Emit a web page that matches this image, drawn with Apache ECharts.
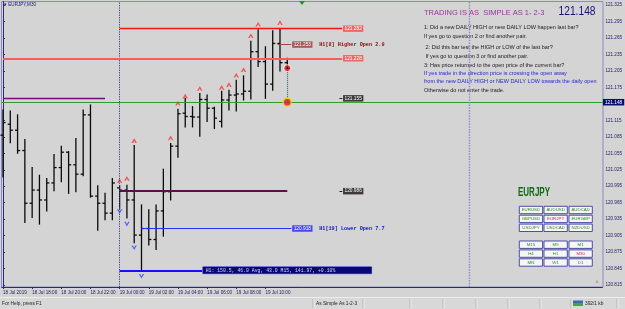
<!DOCTYPE html>
<html><head><meta charset="utf-8">
<script src="https://cdn.jsdelivr.net/npm/echarts@6/dist/echarts.min.js"></script>
<style>html,body{margin:0;padding:0;background:#d4d4d4;overflow:hidden}#c{width:625px;height:309px}</style>
</head><body><div id="c"></div>
<script>
// ---- data ----
const barIndex = [0,1,2,3,4,5,6,7,8,9,10,11,12,13,14,15,16,17,18,19,20,21,22,23,24,25,26,27,28,29,30,31,32,33,34,35,36,37,38,39];
const barOpen  = [121.088,121.108,121.097,121.060,120.964,120.988,120.970,121.001,121.029,121.057,121.034,121.017,121.125,120.977,120.964,120.946,120.992,120.988,120.970,120.906,120.918,120.898,120.950,120.985,121.068,121.128,121.122,121.121,121.153,121.137,121.113,121.152,121.161,121.163,121.168,121.240,121.222,121.181,121.255,121.220];
const barHigh  = [121.134,121.132,121.125,121.080,121.029,121.015,121.009,121.053,121.068,121.058,121.082,121.134,121.143,120.996,120.982,121.009,120.996,120.997,121.069,120.961,120.952,120.961,121.026,121.073,121.135,121.155,121.140,121.164,121.161,121.139,121.168,121.170,121.188,121.196,121.259,121.280,121.249,121.278,121.281,121.228];
const barLow   = [121.012,121.074,121.055,120.929,120.938,120.926,120.950,120.987,121.003,120.982,120.985,121.014,120.975,120.915,120.934,120.934,120.955,120.937,120.892,120.842,120.888,120.880,120.904,120.970,121.048,121.103,121.103,121.086,121.113,121.100,121.103,121.134,121.132,121.152,121.154,121.213,121.155,121.170,121.205,121.210];
const barClose = [121.111,121.097,121.060,120.964,120.988,120.970,121.001,121.029,121.057,121.034,121.017,121.125,120.977,120.964,120.946,121.001,120.988,120.970,120.906,120.918,120.898,120.950,120.985,121.068,121.127,121.122,121.121,121.153,121.137,121.119,121.152,121.161,121.163,121.168,121.240,121.222,121.181,121.255,121.220,121.210];

const timeLabels   = ['18 Jul 2019','18 Jul 18:00','18 Jul 20:00','18 Jul 22:00','19 Jul 00:00','19 Jul 02:00','19 Jul 04:00','19 Jul 06:00','19 Jul 08:00','19 Jul 10:00'];
const timeLabelIdx = [0,4,8,12,16,20,24,28,32,36];
const priceTicks = [120.815,120.845,120.875,120.905,120.935,120.965,120.995,121.025,121.055,121.085,121.115,121.175,121.205,121.235,121.265,121.295,121.325];

const upArrowIdx   = [16,17,18,23,24,25,27,30,31,32,33,34,35,38];
const upArrowPrice = [121.005,121.009,121.078,121.083,121.146,121.159,121.173,121.175,121.180,121.197,121.207,121.269,121.290,121.293];
const downArrowIdx   = [16,17,18,19];
const downArrowPrice = [120.949,120.926,120.883,120.831];

const bidPrice = 121.148;
const dailyHigh = 121.282;
const prevHigh = 121.228;
const purpleLevel = 121.155;
const darkLevel = 120.986;
const higherOpen = 121.253;
const lowerOpen = 120.918;
const lowLevel = 120.842;
const currentDot = 121.210;

const pairs = ['EURUSD','AUDUSD','AUDCAD','GBPUSD','EURJPY','EURGBP','USDJPY','USDCAD','NZDUSD'];
const frames = ['M15','M5','M1','H4','H1','M30','MN','W1','D1'];
const questionLines = [
 ['1: Did a new DAILY HIGH or new DAILY LOW happen last bar?','#1a1a1a'],
 ['If yes go to question 2 or find another pair.','#1a1a1a'],
 [' 2: Did this bar test the HIGH or LOW of the last bar?','#1a1a1a'],
 [' If yes go to question 3 or find another pair.','#1a1a1a'],
 ['3: Has price returned to the open price of the current bar?','#1a1a1a'],
 ['If yes trade in the direction price is crossing the open away','#2626cc'],
 ['from the new DAILY HIGH or NEW DAILY LOW towards the daily open','#2626cc'],
 ['Otherwise do not enter the trade.','#1a1a1a']
];
const questionY = [27.3,36.7,47.7,56.7,65.7,73.7,81.7,90];

// ---- chart ----
const chart = echarts.init(document.getElementById('c'), null, {renderer:'canvas'});
const navy = '#1c1c66';
const upPath = 'path://M0,10 L5,0 L10,10 L7.2,10 L5,5.2 L2.8,10 Z';
const downPath = 'path://M0,0 L2.8,0 L5,4.8 L7.2,0 L10,0 L5,10 Z';

function seg(x1,x2,y,color,width,label,type){
  const s = [{coord:[x1,y]},{coord:[x2,y]}];
  s[0].lineStyle = {color:color,width:width,type:type||'solid'};
  s[0].label = label ? label : {show:false};
  return s;
}

const graphics = [];
graphics.push({type:'rect',shape:{x:1.5,y:1.5,width:601.5,height:285.5},style:{fill:null,stroke:'#8a8ac0',lineWidth:1},silent:true,z:-1});
graphics.push({type:'text',x:4,y:5,style:{text:'\u25BE EURJPY,M30',font:'4.6px "Liberation Sans"',fill:navy,verticalAlign:'middle'}});
graphics.push({type:'polygon',shape:{points:[[299,1],[305,1],[302,5]]},style:{fill:'#1a9a1a'}});
graphics.push({type:'text',x:424,y:12.7,style:{text:'TRADING IS AS  SIMPLE AS 1- 2-3',font:'7.5px "Liberation Sans"',fill:'#9a349e',verticalAlign:'middle'}});
graphics.push({type:'text',x:558.5,y:11.5,scaleX:0.82,style:{text:'121.148',font:'12.5px "Liberation Sans"',fill:'#14146e',verticalAlign:'middle'}});
questionLines.forEach((q,k)=>{
  graphics.push({type:'text',x:424,y:questionY[k],style:{text:q[0],font:'5.5px "Liberation Sans"',fill:q[1],verticalAlign:'middle'}});
});
graphics.push({type:'text',x:518,y:193,scaleX:0.64,style:{text:'EURJPY',font:'bold 12.5px "Liberation Sans"',fill:'#0b6a0b',verticalAlign:'middle'}});
const colX = [519.3,544,569];
function grid3(list, y0, hl){
  list.forEach((t,k)=>{
    const r = Math.floor(k/3), c = k%3;
    const x = colX[c], y = y0 + r*8.9;
    graphics.push({type:'rect',shape:{x:x,y:y,width:23.3,height:7.4},style:{fill:'#f6f6f6',stroke:'#3c3ca0',lineWidth:0.9}});
    graphics.push({type:'text',x:x+11.65,y:y+3.8,style:{text:t,font:'4.4px "Liberation Sans"',fill:t===hl?'#e0206a':'#2a8a2a',align:'center',verticalAlign:'middle'}});
  });
}
grid3(pairs, 206.3, 'EURJPY');
grid3(frames, 241, 'M30');
graphics.push({type:'text',x:597,y:282,style:{text:'\u2693',font:'4px "DejaVu Sans"',fill:'#777',align:'center',verticalAlign:'middle'}});
// status bar
graphics.push({type:'rect',shape:{x:0,y:297,width:625,height:12},style:{fill:'#d8d8d8'}});
graphics.push({type:'line',shape:{x1:0,y1:297.5,x2:625,y2:297.5},style:{stroke:'#eeeeee',lineWidth:1}});
[313,363,410,443,476,508,540,571,617].forEach(x=>{
  graphics.push({type:'line',shape:{x1:x,y1:299,x2:x,y2:308},style:{stroke:'#a8a8a8',lineWidth:0.8}});
  graphics.push({type:'line',shape:{x1:x+1,y1:299,x2:x+1,y2:308},style:{stroke:'#f4f4f4',lineWidth:0.8}});
});
graphics.push({type:'text',x:2,y:304,style:{text:'For Help, press F1',font:'4.8px "Liberation Sans"',fill:'#1a1a1a',verticalAlign:'middle'}});
graphics.push({type:'text',x:316,y:304,style:{text:'As Simple As 1-2-3',font:'4.8px "Liberation Sans"',fill:'#1a1a1a',verticalAlign:'middle'}});
graphics.push({type:'rect',shape:{x:573,y:300.5,width:10,height:5.5},style:{fill:'#3a6ab0'}});
graphics.push({type:'rect',shape:{x:573,y:303,width:10,height:3},style:{fill:'#48a048'}});
graphics.push({type:'text',x:585,y:304,style:{text:'392/1 kb',font:'4.8px "Liberation Sans"',fill:'#1a1a1a',verticalAlign:'middle'}});

const ohlcData = barIndex.map((i,k)=>[i,barOpen[k],barHigh[k],barLow[k],barClose[k]]);

const boxLabel = (bg, txt) => ({show:true,position:'end',distance:0.5,formatter:txt,backgroundColor:bg,color:'#fff',fontSize:4.8,fontFamily:'Liberation Sans',padding:[1,1.5,0.5,1.5],borderColor:'#f0d0d0',borderWidth:0.5});

const option = {
  animation:false,
  backgroundColor:'#d4d4d4',
  grid:{left:1.5,right:22,top:1.5,bottom:22,containLabel:false},
  xAxis:{type:'value',min:-0.164,max:82.23,
    axisLine:{show:true,onZero:false,lineStyle:{color:'#2a2a80',width:1}},
    axisTick:{show:true,length:2,customValues:timeLabelIdx,lineStyle:{color:'#2a2a80'}},
    axisLabel:{show:true,customValues:timeLabelIdx,align:'left',margin:3.5,fontSize:4.6,fontFamily:'Liberation Sans',color:navy,
      formatter:v=>{const k=timeLabelIdx.indexOf(Math.round(v));return k>=0?timeLabels[k]:'';}},
    splitLine:{show:false}},
  yAxis:{type:'value',position:'right',min:120.8115,max:121.3314,scale:true,
    axisLine:{show:true,lineStyle:{color:'#2a2a80',width:1}},
    axisTick:{show:true,length:2,customValues:priceTicks,lineStyle:{color:'#2a2a80'}},
    axisLabel:{show:true,customValues:priceTicks,margin:3,fontSize:4.6,fontFamily:'Liberation Sans',color:navy,formatter:v=>v.toFixed(3)},
    splitLine:{show:false}},
  graphic:graphics,
  series:[
    {type:'custom',name:'bars',clip:false,data:ohlcData,encode:{x:0,y:[1,2,3,4]},
     renderItem:(params,api)=>{
       const h=api.coord([api.value(0),api.value(2)]);
       const l=api.coord([api.value(0),api.value(3)]);
       const o=api.coord([api.value(0),api.value(1)]);
       const c=api.coord([api.value(0),api.value(4)]);
       const t=2.6, st={stroke:'#0a0a0a',lineWidth:1.3};
       return {type:'group',children:[
         {type:'line',shape:{x1:h[0],y1:h[1]-0.5,x2:l[0],y2:l[1]+0.5},style:st},
         {type:'line',shape:{x1:o[0]-t,y1:o[1],x2:o[0],y2:o[1]},style:st},
         {type:'line',shape:{x1:c[0],y1:c[1],x2:c[0]+t,y2:c[1]},style:st}
       ]};
     },
     z:3,
     markLine:{silent:true,symbol:'none',animation:false,
       data:[
         {xAxis:16,lineStyle:{color:'#3a3a8a',width:1,type:[1.2,1.2]},label:{show:false}},
         seg(-0.164,82.23,bidPrice,'#2f9a2f',1,{show:true,position:'end',distance:0.5,formatter:'121.148',backgroundColor:'#0c0c6e',color:'#fff',fontSize:4.8,fontFamily:'Liberation Sans',padding:[1,2,0.5,2]}),
         seg(16,46.58,dailyHigh,'#ff1010',1.3,boxLabel('#e86868','121.282')),
         seg(0,46.58,prevHigh,'#f06060',1.8,boxLabel('#e86868','121.228')),
         seg(0,14,purpleLevel,'#7a0a7a',1.3,null),
         seg(46.16,46.58,purpleLevel,'#202020',1,boxLabel('#3a3a3a','121.155')),
         seg(16,39,darkLevel,'#5a1050',1.8,null),
         seg(46.16,46.58,darkLevel,'#202020',1,boxLabel('#3a3a3a','120.986')),
         seg(19,39.6,lowerOpen,'#2a2aff',1,{show:true,position:'end',distance:0.5,formatter:'{b|120.918}  {t|H1[19] Lower Open 7.7}',
            rich:{b:{backgroundColor:'#4848f0',color:'#fff',fontSize:4.8,fontFamily:'Liberation Sans',padding:[1,1.5,0.5,1.5],borderColor:'#d0d0ff',borderWidth:0.5},
                  t:{color:'#1414c0',fontSize:5.2,fontFamily:'Liberation Mono',fontWeight:'bold'}}}),
         seg(37.67,39.6,higherOpen,'#a04848',1,{show:true,position:'end',distance:0.5,formatter:'{b|121.253}  {t|H1[8] Higher Open 2.9}',
            rich:{b:{backgroundColor:'#a45a5a',color:'#fff',fontSize:4.8,fontFamily:'Liberation Sans',padding:[1,1.5,0.5,1.5],borderColor:'#f0d0d0',borderWidth:0.5},
                  t:{color:'#8a0a0a',fontSize:5.2,fontFamily:'Liberation Mono',fontWeight:'bold'}}}),
         seg(16,27.4,lowLevel,'#1010ff',1.8,{show:true,position:'end',distance:0,formatter:'{b|H1: 150.5, 46.0 Avg, 43.0 M15, 141.97, +0.10%}',
            rich:{b:{backgroundColor:'#08086e',color:'#d8d8ff',fontSize:4.8,fontFamily:'Liberation Mono',width:163,padding:[1.2,3,1,3],borderColor:'#9090ff',borderWidth:0.5}}})
       ]
     }
    },
    {type:'line',name:'vlines',data:[],markLine:{silent:true,symbol:'none',animation:false,label:{show:false},
      data:[
        {xAxis:64,lineStyle:{color:'#8a8ad0',width:1.4,type:[1.5,1.2]}},
        [{coord:[39,currentDot],lineStyle:{color:'#3a6a6a',width:1.2,type:[1,1]}},{coord:[39,bidPrice]}]
      ]}},
    {type:'scatter',name:'up',data:upArrowIdx.map((i,k)=>[i,upArrowPrice[k]]),symbol:upPath,symbolSize:[5.4,4.6],
     itemStyle:{color:'#ff2a2a'},z:4,silent:true},
    {type:'scatter',name:'down',data:downArrowIdx.map((i,k)=>[i,downArrowPrice[k]]),symbol:downPath,symbolSize:[5.4,4.6],
     itemStyle:{color:'#2a48ff'},z:4,silent:true},
    {type:'scatter',name:'dots',data:[[39,bidPrice]],symbol:'circle',symbolSize:8,
     itemStyle:{color:'#e0143a',borderColor:'#f2e000',borderWidth:1.6},z:6,silent:true},
    {type:'scatter',name:'dot2',data:[[39,currentDot]],symbol:'circle',symbolSize:7,
     itemStyle:{color:'#e8101c',borderColor:'#ffffff',borderWidth:1},z:6,silent:true},
    {type:'scatter',name:'dot3',data:[[39,currentDot]],symbol:'circle',symbolSize:2,
     itemStyle:{color:'#000'},z:7,silent:true}
  ]
};
chart.setOption(option);
</script>
</body></html>
